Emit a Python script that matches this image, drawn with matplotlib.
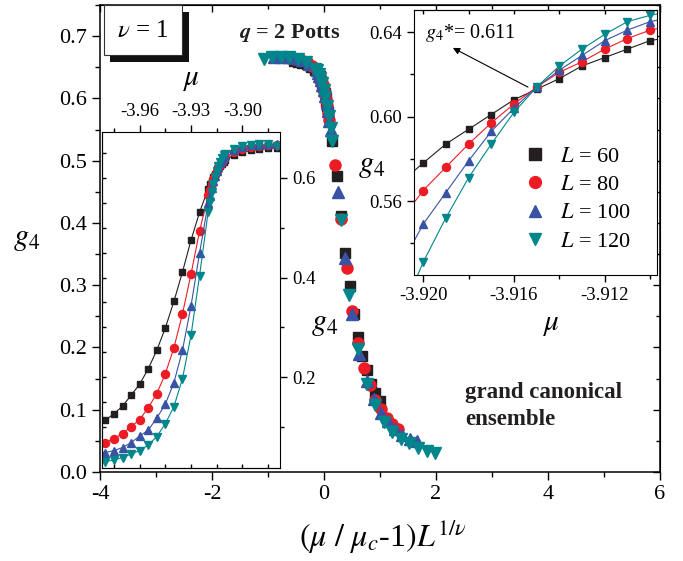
import matplotlib
matplotlib.use('Agg')
import matplotlib.pyplot as plt
from matplotlib.lines import Line2D
from matplotlib.patches import Rectangle
from matplotlib.ticker import MultipleLocator, FormatStrFormatter
import numpy as np

plt.rcParams['font.family'] = 'serif'
plt.rcParams['font.serif'] = ['Liberation Serif', 'DejaVu Serif']
plt.rcParams['mathtext.fontset'] = 'stix'
plt.rcParams['axes.unicode_minus'] = False

# chemical potential grid (same for every L)
mu = [-3.980, -3.975, -3.970, -3.965, -3.960, -3.955, -3.950, -3.945, -3.940,
      -3.935, -3.930, -3.925, -3.920, -3.919, -3.918, -3.917, -3.916, -3.915,
      -3.914, -3.913, -3.912, -3.911, -3.910, -3.905, -3.900, -3.895, -3.890,
      -3.885, -3.880]
mu_c = -3.9152
sizes = [60, 80, 100, 120]

g4_L60 = [0.114, 0.127, 0.142, 0.164, 0.186, 0.217, 0.254, 0.299, 0.352, 0.411,
          0.475, 0.531, 0.578, 0.587, 0.594, 0.601, 0.608, 0.613, 0.618, 0.624,
          0.628, 0.632, 0.636, 0.645, 0.651, 0.655, 0.657, 0.659, 0.660]
g4_L80 = [0.069, 0.077, 0.087, 0.101, 0.115, 0.139, 0.167, 0.207, 0.259, 0.327,
          0.407, 0.493, 0.565, 0.576, 0.587, 0.597, 0.606, 0.614, 0.621, 0.626,
          0.632, 0.637, 0.641, 0.652, 0.658, 0.662, 0.664, 0.665, 0.666]
g4_L100 = [0.049, 0.053, 0.059, 0.069, 0.082, 0.094, 0.118, 0.146, 0.189, 0.254,
           0.343, 0.449, 0.549, 0.564, 0.579, 0.593, 0.604, 0.614, 0.622, 0.629,
           0.636, 0.641, 0.645, 0.656, 0.662, 0.665, 0.666, 0.667, 0.667]
g4_L120 = [0.031, 0.034, 0.039, 0.046, 0.053, 0.064, 0.081, 0.107, 0.141, 0.197,
           0.284, 0.404, 0.531, 0.552, 0.571, 0.587, 0.602, 0.614, 0.624, 0.632,
           0.639, 0.645, 0.648, 0.658, 0.664, 0.666, 0.667, 0.667, 0.664]
g4_all = [g4_L60, g4_L80, g4_L100, g4_L120]

colors = ['#231f20', '#ed1c24', '#3953a4', '#00868b']
markers = ['s', 'o', '^', 'v']
ms_main = [7, 8, 8.5, 8.5]
ms_inset = [5, 5.8, 6.2, 6.2]

W, H = 683, 561
fig = plt.figure(figsize=(W / 100, H / 100), dpi=100)

def px_rect(x0, y0, x1, y1):
    return [x0 / W, 1 - y1 / H, (x1 - x0) / W, (y1 - y0) / H]

# ---- main collapse plot ----
ax = fig.add_axes(px_rect(100, 5, 660, 472))
mu_arr = np.array(mu)
for L, g4, c, m, s in zip(sizes, g4_all, colors, markers, ms_main):
    xs = (mu_arr / mu_c - 1) * L
    ax.plot(xs, g4, ls='none', marker=m, ms=s, color=c, mec=c)
ax.set_xlim(-4, 6)
ax.set_ylim(0, 0.75)
ax.xaxis.set_major_locator(MultipleLocator(2))
ax.xaxis.set_minor_locator(MultipleLocator(1))
ax.yaxis.set_major_locator(MultipleLocator(0.1))
ax.yaxis.set_minor_locator(MultipleLocator(0.05))
ax.yaxis.set_major_formatter(FormatStrFormatter('%.1f'))
ax.tick_params(which='both', direction='out', labelsize=16, width=1)
ax.tick_params(which='major', length=6)
ax.tick_params(which='minor', length=3.5)
for sp in ax.spines.values():
    sp.set_linewidth(1.1)
sec_r = ax.secondary_yaxis('right')
sec_r.yaxis.set_major_locator(MultipleLocator(0.1))
sec_r.yaxis.set_minor_locator(MultipleLocator(0.05))
sec_r.tick_params(which='both', direction='in', labelright=False, width=1)
sec_r.tick_params(which='major', length=5)
sec_r.tick_params(which='minor', length=3)
sec_t = ax.secondary_xaxis('top')
sec_t.xaxis.set_major_locator(MultipleLocator(2))
sec_t.xaxis.set_minor_locator(MultipleLocator(1))
sec_t.tick_params(which='both', direction='in', labeltop=False, width=1)
sec_t.tick_params(which='major', length=5)
sec_t.tick_params(which='minor', length=3)

fig.text(27 / W, 1 - 238 / H, r'$g_4$', fontsize=22, ha='center', va='center')
fig.text(383 / W, 1 - 537 / H, r'$(\mu\ /\ \mu_c$-1$)L^{1/\nu}$', fontsize=23,
         ha='center', va='center')
fig.text(290 / W, 1 - 33 / H, r'$\mathbfit{q}$ = 2 Potts', fontsize=16,
         fontweight='bold', ha='center', va='center', color='#231f20')
fig.text(465 / W, 1 - 406 / H, 'grand canonical\nensemble', fontsize=16.5,
         fontweight='bold', ha='left', va='center', linespacing=1.35,
         color='#231f20')

# nu = 1 box with shadow
fig.add_artist(Rectangle((110 / W, 1 - 62 / H), 79 / W, 50 / H,
                         transform=fig.transFigure, facecolor='#111111',
                         edgecolor='none', zorder=10))
fig.add_artist(Rectangle((104 / W, 1 - 55 / H), 78 / W, 50 / H,
                         transform=fig.transFigure, facecolor='white',
                         edgecolor='#333333', lw=0.8, zorder=11))
fig.text(143 / W, 1 - 31 / H, r'$\nu$ = 1', fontsize=18, ha='center',
         va='center', zorder=12)

# ---- left inset: raw g4 vs mu ----
axl = fig.add_axes(px_rect(102, 132, 280, 468))
for g4, c, m, s in zip(g4_all, colors, markers, ms_inset):
    axl.plot(mu, g4, lw=0.8, marker=m, ms=s, color=c, mec=c)
axl.set_xlim(-3.982, -3.878)
axl.set_ylim(0.018, 0.692)
axl.xaxis.tick_top()
axl.yaxis.tick_right()
axl.xaxis.set_major_locator(MultipleLocator(0.03))
axl.xaxis.set_minor_locator(MultipleLocator(0.015))
axl.xaxis.set_major_formatter(FormatStrFormatter('%.2f'))
axl.yaxis.set_major_locator(MultipleLocator(0.2))
axl.yaxis.set_minor_locator(MultipleLocator(0.1))
axl.yaxis.set_major_formatter(FormatStrFormatter('%.1f'))
axl.tick_params(which='both', direction='out', labelsize=13.5, width=1)
axl.tick_params(which='major', length=5)
axl.tick_params(which='minor', length=3)
sl_b = axl.secondary_xaxis('bottom')
sl_b.xaxis.set_major_locator(MultipleLocator(0.015))
sl_b.tick_params(direction='in', labelbottom=False, length=3, width=1)
sl_l = axl.secondary_yaxis('left')
sl_l.yaxis.set_major_locator(MultipleLocator(0.05))
sl_l.tick_params(direction='in', labelleft=False, length=3, width=1)
fig.text(192 / W, 1 - 80 / H, r'$\mu$', fontsize=21, ha='center', va='center')
fig.text(325 / W, 1 - 323 / H, r'$g_4$', fontsize=22, ha='center', va='center')

# ---- right inset: crossing region ----
axr = fig.add_axes(px_rect(414, 10, 657, 275))
for g4, c, m, s in zip(g4_all, colors, markers, ms_inset):
    axr.plot(mu, g4, lw=0.8, marker=m, ms=s, color=c, mec=c)
axr.set_xlim(-3.9204, -3.9097)
axr.set_ylim(0.525, 0.6505)
axr.xaxis.set_major_locator(MultipleLocator(0.004))
axr.xaxis.set_minor_locator(MultipleLocator(0.002))
axr.xaxis.set_major_formatter(FormatStrFormatter('%.3f'))
axr.yaxis.set_major_locator(MultipleLocator(0.04))
axr.yaxis.set_minor_locator(MultipleLocator(0.02))
axr.yaxis.set_major_formatter(FormatStrFormatter('%.2f'))
axr.tick_params(which='both', direction='out', labelsize=13.5, width=1)
axr.tick_params(which='major', length=5)
axr.tick_params(which='minor', length=3)
sr_t = axr.secondary_xaxis('top')
sr_t.xaxis.set_major_locator(MultipleLocator(0.002))
sr_t.tick_params(direction='in', labeltop=False, length=3, width=1)
fig.text(372 / W, 1 - 166 / H, r'$g_4$', fontsize=22, ha='center', va='center')
fig.text(552 / W, 1 - 325 / H, r'$\mu$', fontsize=21, ha='center', va='center')

handles = [Line2D([], [], ls='none', marker=m, ms=8.5, color=c, mec=c)
           for c, m in zip(colors, markers)]
labels = [r'$L$ = %d' % L for L in sizes]
axr.legend(handles, labels, loc='center left', bbox_to_anchor=(0.39, 0.287),
           frameon=False, fontsize=16, handlelength=1.0, handletextpad=0.6,
           labelspacing=0.35, borderpad=0.2)

axr.annotate('', xy=(0.160, 0.857), xytext=(0.469, 0.709),
             xycoords='axes fraction', textcoords='axes fraction',
             arrowprops=dict(arrowstyle='-|>', color='black', lw=0.8,
                             mutation_scale=10, shrinkA=0, shrinkB=0))
axr.text(0.045, 0.913, r'$g_4$*= 0.611', transform=axr.transAxes,
         fontsize=14.5, ha='left', va='center')

fig.savefig('out.png', dpi=100)
